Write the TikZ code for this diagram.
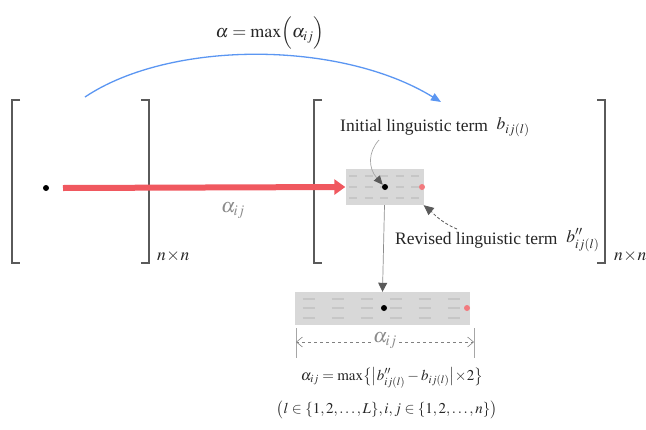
\documentclass[tikz,border=0pt]{standalone}
\usepackage{mathptmx}
\usepackage{fontspec}
\setmainfont{Liberation Serif}
\usetikzlibrary{arrows.meta,calc}
\definecolor{brk}{HTML}{5A5A5A}
\definecolor{redarr}{HTML}{F0585F}
\definecolor{bluearr}{HTML}{5B96F2}
\definecolor{boxg}{HTML}{D8D8D8}
\definecolor{dashg}{HTML}{C6C6C6}
\definecolor{pinkdot}{HTML}{F27A7E}
\definecolor{lblg}{HTML}{8A8A8A}
\tikzset{
  bracket/.style={draw=brk, line width=1.6pt},
  dotnode/.style={circle, fill=black, inner sep=0pt, minimum size=6pt},
  pinknode/.style={circle, fill=pinkdot, inner sep=0pt, minimum size=6pt},
  termbox/.style={rectangle, fill=boxg, inner sep=0pt},
  lbl/.style={inner sep=1pt, font=\fontsize{17.5}{19}\selectfont, text=black!85},
  fml/.style={inner sep=1pt, font=\fontsize{15}{17}\selectfont, text=black!85},
  greylbl/.style={inner sep=1pt, font=\fontsize{20}{22}\selectfont, text=lblg},
}
\begin{document}
\begin{tikzpicture}[x=1pt,y=-1pt]
\useasboundingbox (0,0) rectangle (646,429);
\clip (0,0) rectangle (646,429);
% left matrix
\draw[bracket] (20,100) -- (12,100) -- (12,263) -- (20,263);
\draw[bracket] (141,100) -- (149,100) -- (149,263) -- (141,263);
\node[lbl, anchor=west] (nn1) at (156,256) {$n\!\times\! n$};
% right matrix
\draw[bracket] (322,100) -- (314,100) -- (314,263) -- (322,263);
\draw[bracket] (597,100) -- (605,100) -- (605,263) -- (597,263);
\node[lbl, anchor=west] (nn2) at (613,256) {$n\!\times\! n$};
% left element
\node[dotnode] (d0) at (46,188) {};
\coordinate (rs) at (63,188);
% small box
\node[termbox, minimum width=78pt, minimum height=36pt] (sb) at (384.5,187) {};
\foreach \c in {0,...,4} \foreach \r in {0,1,2}
  \draw[dashg, line width=2.2pt] ($(sb.north west)+(4+15.5*\c,7+11*\r)$) -- ++(8,0);
\node[dotnode] (d1) at (385,187) {};
\node[pinknode] (p1) at (422,187) {};
% red arrow
\draw[redarr, line width=6pt, -{Triangle[length=11pt,width=15pt]}] (rs) -- (sb.west);
\node[greylbl] (a1) at (233,211) {$\alpha_{ij}$};
% blue arc
\coordinate (bs) at (85,97);
\coordinate (be) at (441,102);
\draw[bluearr, line width=1.3pt, -{Triangle[length=10pt,width=8pt]}] (bs) .. controls (170,40) and (340,40) .. (be);
\node[lbl, font=\fontsize{18}{20}\selectfont] (amax) at (270,33) {$\alpha=\max\Bigl(\alpha_{ij}\Bigr)$};
% initial term
\node[lbl, anchor=west] (init) at (339,127) {Initial linguistic term \ \raisebox{2pt}{$b_{ij(l)}$}};
\coordinate (is) at (379,140);
\draw[black!35, line width=0.7pt, -{Triangle[length=9pt,width=8pt,color=brk]}] (is) .. controls (368,152) and (368,168) .. (d1.north west);
% revised term
\node[lbl, anchor=west] (rev) at (394,240) {Revised linguistic term \ \raisebox{2pt}{$b''_{ij(l)}$}};
\coordinate (rs2) at (457,229);
\draw[brk, line width=0.8pt, densely dashed, -{Triangle[length=10pt,width=9pt]}] (rs2) .. controls (440,222) and (432,212) .. (sb.south east);
% big box
\node[termbox, minimum width=175pt, minimum height=33pt] (bb) at (382.5,308.5) {};
\foreach \c in {0,...,5} \foreach \r in {0,1,2}
  \draw[dashg, line width=2.2pt] ($(bb.north west)+(8+29*\c,7+9.5*\r)$) -- ++(12,0);
\node[dotnode] (d2) at (384,308) {};
\node[pinknode] (p2) at (467,308) {};
% vertical arrow
\draw[black!45, line width=0.7pt, -{Triangle[length=9pt,width=9pt,color=brk]}] (sb.south) -- (bb.north);
% dimension
\coordinate (t1a) at (296,328); \coordinate (t1b) at (296,358);
\coordinate (t2a) at (474,328); \coordinate (t2b) at (474,358);
\draw[black!35, line width=0.6pt] (t1a) -- (t1b);
\draw[black!35, line width=0.6pt] (t2a) -- (t2b);
\node[greylbl, fill=white, inner sep=2pt] (a2) at (385,341) {$\alpha_{ij}$};
\coordinate (dl) at (296,342); \coordinate (dr) at (474,342);
\draw[black!50, line width=0.6pt, dashed, -{Straight Barb[length=6pt,width=10pt]}] (a2.west |- dl) -- (dl);
\draw[black!50, line width=0.6pt, dashed, -{Straight Barb[length=6pt,width=10pt]}] (a2.east |- dr) -- (dr);
% formulas
\node[fml] (f1) at (392,378) {$\alpha_{ij}=\max\bigl\{\bigl|b''_{ij(l)}-b_{ij(l)}\bigr|\!\times\! 2\bigr\}$};
\node[fml] (f2) at (387,410) {$\bigl(l\in\{1,2,\ldots,L\},i,j\in\{1,2,\ldots,n\}\bigr)$};
\end{tikzpicture}
\end{document}
